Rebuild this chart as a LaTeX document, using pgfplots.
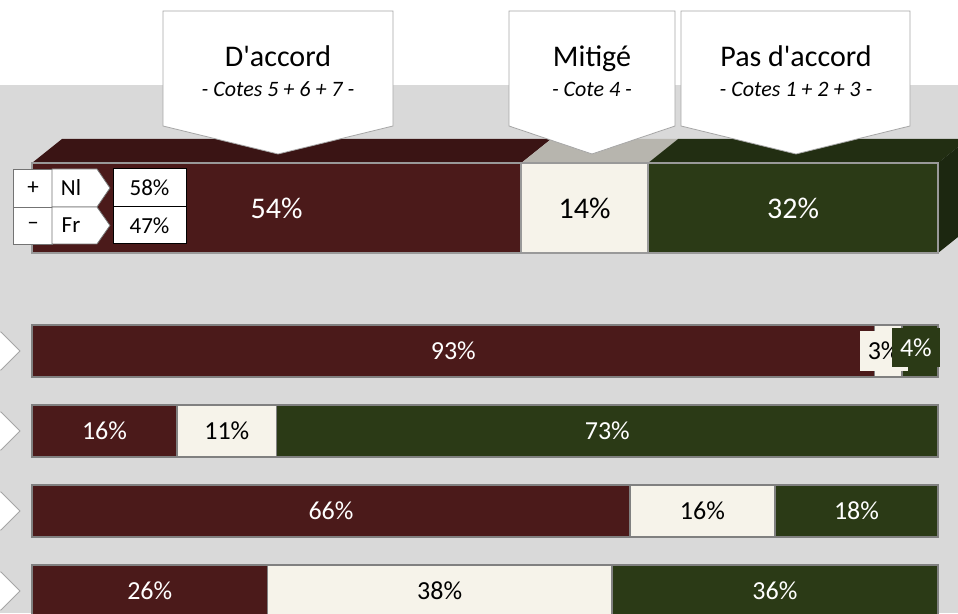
\documentclass[border=0pt]{standalone}
\usepackage{fontspec}
\setmainfont{Carlito}
\usepackage{pgfplots}
\usepackage{pgfplotstable}
\pgfplotsset{compat=1.18}

\definecolor{maroon}{HTML}{4B1A1A}
\definecolor{maroontop}{HTML}{3A1414}
\definecolor{cream}{HTML}{F6F3EA}
\definecolor{creamtop}{HTML}{B7B5AE}
\definecolor{olive}{HTML}{2B3A16}
\definecolor{olivetop}{HTML}{222E12}
\definecolor{oliveside}{HTML}{1C2710}
\definecolor{bggray}{HTML}{D9D9D9}
\definecolor{edgegray}{HTML}{808080}

% overall result (3D bar)
\pgfplotstableread{
row agree mixed disagree
0   54    14    32
}\topdata

% four detail bars, top to bottom = row 4..1
\pgfplotstableread{
row agree mixed disagree dxmixed dxdis dydis
4   93    3     4        -4.5    -4    3.5
3   16    11    73       0       0     0
2   66    16    18       0       0     0
1   26    38    36       0       0     0
}\lowerdata

% labels already sit in the middle of each stacked segment
\pgfplotsset{
  seg/.style={xbar stacked, draw=edgegray, line width=1.5pt},
  lbl/.style={
    nodes near coords={\pgfmathprintnumber[fixed,precision=0,assume math mode=true]{\rawx}\%},
    visualization depends on=rawx \as \rawx,
    nodes near coords style={anchor=center},
  },
}

\begin{document}
\begin{tikzpicture}[x=1pt,y=1pt]
\useasboundingbox (0,0) rectangle (958,613);
\clip (0,0) rectangle (958,613);
\fill[bggray] (0,0) rectangle (958,528);

% side arrows of the detail bars
\foreach \yc in {262,182,102,22}
  \filldraw[fill=white, draw=gray!70, line width=0.8pt]
    (-10,\yc+19) -- (1,\yc+19) -- (20,\yc) -- (1,\yc-19) -- (-10,\yc-19) -- cycle;

% 3D faces of the overall bar
\begin{axis}[at={(32pt,360pt)}, anchor=south west, scale only axis,
  width=906pt, height=90pt, xmin=0, xmax=100, ymin=-0.5, ymax=0.5,
  hide axis, clip=false]
\addplot[fill=maroontop, draw=none] coordinates {(0,0.5) (54,0.5) (57.31,0.7667) (3.31,0.7667)};
\addplot[fill=creamtop, draw=none] coordinates {(54,0.5) (68,0.5) (71.31,0.7667) (57.31,0.7667)};
\addplot[fill=olivetop, draw=none] coordinates {(68,0.5) (100,0.5) (103.31,0.7667) (71.31,0.7667)};
\addplot[fill=oliveside, draw=none] coordinates {(100,-0.5) (103.31,-0.2333) (103.31,0.7667) (100,0.5)};
\end{axis}

% overall bar, front face
\begin{axis}[at={(32pt,360pt)}, anchor=south west, scale only axis,
  width=906pt, height=90pt, xmin=0, xmax=100, ymin=-0.5, ymax=0.5,
  hide axis, clip=false, xbar stacked, bar width=90pt,
  nodes near coords style={font=\fontsize{30}{36}\selectfont}]
\addplot[seg, draw=gray!80, fill=maroon, lbl, nodes near coords style={text=white}]
  table[x=agree, y=row] {\topdata};
\addplot[seg, draw=gray!80, fill=cream, lbl, nodes near coords style={text=black}]
  table[x=mixed, y=row] {\topdata};
\addplot[seg, draw=gray!80, fill=olive, lbl, nodes near coords style={text=white}]
  table[x=disagree, y=row] {\topdata};
\end{axis}

% detail bars
\begin{axis}[at={(32pt,-18pt)}, anchor=south west, scale only axis,
  width=906pt, height=320pt, xmin=0, xmax=100, ymin=0.5, ymax=4.5,
  hide axis, clip=false, xbar stacked, bar width=52pt,
  reverse stacked plots=false,
  nodes near coords style={font=\fontsize{26}{31}\selectfont,
    inner xsep=8pt, inner ysep=11pt}]
\addplot[seg, fill=maroon, lbl, nodes near coords style={text=white, fill=maroon}]
  table[x=agree, y=row] {\lowerdata};
\addplot[seg, fill=cream, lbl,
  visualization depends on=\thisrow{dxmixed} \as \dx,
  nodes near coords style={text=black, fill=cream, xshift={\dx pt}}]
  table[x=mixed, y=row] {\lowerdata};
\addplot[seg, fill=olive, lbl,
  visualization depends on=\thisrow{dxdis} \as \dx,
  visualization depends on=\thisrow{dydis} \as \dy,
  nodes near coords style={text=white, fill=olive, xshift={\dx pt}, yshift={\dy pt}}]
  table[x=disagree, y=row] {\lowerdata};
\end{axis}

% callouts
\filldraw[fill=white, draw=gray!70, line width=0.8pt]
  (163,602) -- (393,602) -- (393,487) -- (278,459) -- (163,487) -- cycle;
\filldraw[fill=white, draw=gray!70, line width=0.8pt]
  (509,602) -- (675,602) -- (675,487) -- (592,459) -- (509,487) -- cycle;
\filldraw[fill=white, draw=gray!70, line width=0.8pt]
  (681,602) -- (910,602) -- (910,487) -- (796,459) -- (681,487) -- cycle;
\node[anchor=base, font=\fontsize{30}{36}\selectfont] at (278,546) {D\textquotesingle accord};
\node[anchor=base, font=\fontsize{22}{26}\selectfont\itshape] at (278,516) {- Cotes 5 + 6 + 7 -};
\node[anchor=base, font=\fontsize{30}{36}\selectfont] at (592,546) {Mitigé};
\node[anchor=base, font=\fontsize{22}{26}\selectfont\itshape] at (592,516) {- Cote 4 -};
\node[anchor=base, font=\fontsize{30}{36}\selectfont] at (796,546) {Pas d\textquotesingle accord};
\node[anchor=base, font=\fontsize{22}{26}\selectfont\itshape] at (796,516) {- Cotes 1 + 2 + 3 -};

% language box
\begin{scope}[font=\fontsize{23}{27}\selectfont]
\filldraw[fill=white, draw=gray!90!black, line width=0.8pt] (13,444) rectangle (52,406);
\filldraw[fill=white, draw=gray!90!black, line width=0.8pt] (13,406) rectangle (52,369);
\filldraw[fill=white, draw=gray!90!black, line width=0.8pt]
  (52,444) -- (97,444) -- (110,425) -- (97,406) -- (52,406) -- cycle;
\filldraw[fill=white, draw=gray!90!black, line width=0.8pt]
  (52,406) -- (97,406) -- (110,387.5) -- (97,369) -- (52,369) -- cycle;
\filldraw[fill=white, draw=black, line width=1pt] (113,444) rectangle (186,406);
\filldraw[fill=white, draw=black, line width=1pt] (113,406) rectangle (186,369);
\node at (33,425) {+};
\node at (33,387.5) {–};
\node at (71,425) {Nl};
\node at (71,387.5) {Fr};
\node at (149.5,425) {58\%};
\node at (149.5,387.5) {47\%};
\end{scope}
\end{tikzpicture}
\end{document}
